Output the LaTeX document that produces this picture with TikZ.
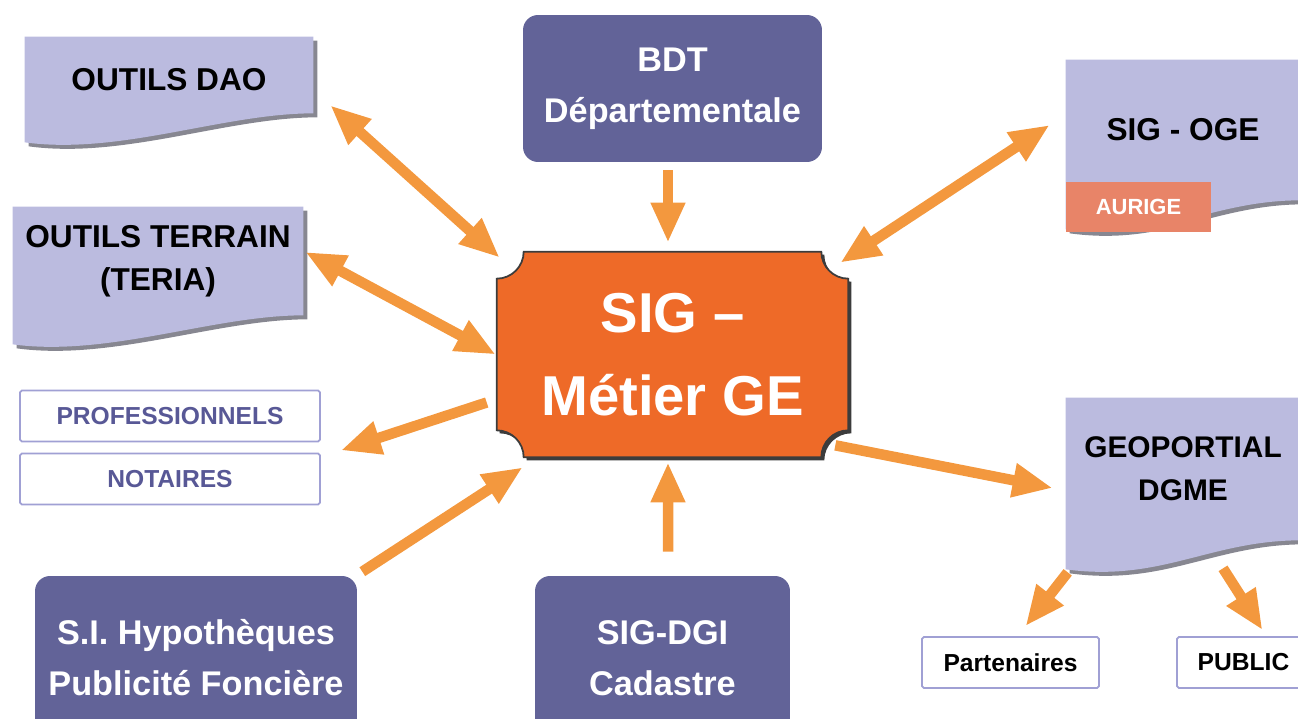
\documentclass[tikz,border=0pt]{standalone}
\usepackage{fontspec}
\setmainfont{Liberation Sans}
\usetikzlibrary{arrows.meta,calc,backgrounds}

\definecolor{paper}{RGB}{187,187,223}
\definecolor{papershade}{RGB}{135,135,145}
\definecolor{plaque}{RGB}{98,99,152}
\definecolor{core}{RGB}{238,106,40}
\definecolor{coreline}{RGB}{60,60,60}
\definecolor{arroworange}{RGB}{243,152,62}
\definecolor{frame}{RGB}{160,160,212}
\definecolor{inkblue}{RGB}{88,88,150}
\definecolor{aurigefill}{RGB}{232,132,104}

% sheet with a wavy lower edge, drawn round a node
\newcommand{\sheet}[1]{%
  \fill[papershade, transform canvas={shift={(4,4)}}] (#1.north west) -- (#1.north east) -- (#1.south east)
    .. controls ($(#1.south east)+(-90,0)$) and ($(#1.south west)+(95,42)$) .. ($(#1.south west)+(0,29)$) -- cycle;
  \fill[paper] (#1.north west) -- (#1.north east) -- (#1.south east)
    .. controls ($(#1.south east)+(-90,0)$) and ($(#1.south west)+(95,42)$) .. ($(#1.south west)+(0,29)$) -- cycle;}

% plate with hollow corners
\newcommand{\plate}[2]{%
  ($(#1.north west)+(#2,0)$) -- ($(#1.north east)+(-#2,0)$) arc[start angle=180, end angle=90, radius=#2]
  -- ($(#1.south east)+(0,-#2)$) arc[start angle=270, end angle=180, radius=#2]
  -- ($(#1.south west)+(#2,0)$) arc[start angle=0, end angle=-90, radius=#2]
  -- ($(#1.north west)+(0,#2)$) arc[start angle=90, end angle=0, radius=#2] -- cycle}

\begin{document}
\begin{tikzpicture}[
  x=0.02cm, y=-0.02cm,
  sheetbox/.style={inner sep=0pt, align=center, font=\bfseries\fontsize{18}{24.5}\selectfont},
  plaquebox/.style={fill=plaque, rounded corners=0.3cm, inner sep=0pt, align=center, text=white, font=\bfseries\fontsize{19.5}{29}\selectfont},
  listbox/.style={draw=frame, line width=1pt, fill=white, rounded corners=1pt, inner sep=0pt, minimum height=1.02cm, font=\bfseries\fontsize{14}{16}\selectfont},
  fat/.style={draw=arroworange, line width=0.21cm, -{Triangle[length=0.8cm,width=0.64cm]}},
  fatboth/.style={fat, {Triangle[length=0.8cm,width=0.64cm]}-{Triangle[length=0.8cm,width=0.64cm]}}
]
\useasboundingbox (0,0) rectangle (1298,719);
\clip (0,0) rectangle (1298,719);

% sheets
\node[sheetbox, minimum width=5.76cm, minimum height=1.52cm, text height=0.64cm] (dao) at (169,75) {OUTILS DAO};
\node[sheetbox, minimum width=5.8cm, minimum height=2.16cm] (terrain) at (158,261) {OUTILS TERRAIN\\(TERIA)};
\node[sheetbox, minimum width=4.68cm, minimum height=2.8cm] (oge) at (1183,130) {SIG - OGE};
\node[sheetbox, minimum width=4.68cm, minimum height=2.84cm, font=\bfseries\fontsize{17}{24.5}\selectfont] (geo) at (1183,469) {GEOPORTIAL\\DGME};

% plaques
\node[plaquebox, minimum width=5.98cm, minimum height=2.94cm] (bdt) at (672.5,88.5) {BDT\\Départementale};
\node[plaquebox, minimum width=6.44cm, minimum height=3.28cm] (hyp) at (196,658) {S.I. Hypothèques\\Publicité Foncière};
\node[plaquebox, minimum width=5.1cm, minimum height=3.28cm] (dgi) at (662.5,658) {SIG-DGI\\Cadastre};

% centre
\node[inner sep=0pt, minimum width=7.02cm, minimum height=4.1cm, align=center, text=white,
  font=\bfseries\fontsize{32}{47}\selectfont] (sig) at (672.5,354.5) {SIG –\\Métier GE};

% small boxes
\node[listbox, minimum width=6cm, text=inkblue] (pro) at (170,416) {PROFESSIONNELS};
\node[listbox, minimum width=6cm, text=inkblue] (not) at (170,479) {NOTAIRES};
\node[listbox, minimum width=3.54cm] (part) at (1010.5,662.5) {Partenaires};
\node[listbox, minimum width=2.66cm] (pub) at (1243.5,662.5) {PUBLIC};

\begin{pgfonlayer}{background}
  \sheet{dao}
  \sheet{terrain}
  \sheet{oge}
  \sheet{geo}
  \fill[coreline, transform canvas={shift={(3,3)}}] \plate{sig}{27};
  \filldraw[fill=core, draw=coreline, line width=1pt] \plate{sig}{27};
\end{pgfonlayer}

\node[fill=aurigefill, inner sep=0pt, minimum width=2.9cm, minimum height=1cm, text=white,
  font=\bfseries\fontsize{12.5}{14}\selectfont] (aurige) at (1138.5,207) {AURIGE};

% connectors
\draw[fatboth] ([shift={(17,-8)}]dao.south east) -- ([shift={(3,6)}]sig.north west);
\draw[fatboth] ([shift={(2,-9)}]terrain.east) -- ([shift={(-1,0)}]sig.west);
\draw[fat] ([shift={(-10,48)}]sig.west) -- ([shift={(20,8)}]pro.south east);
\draw[fat] ([shift={(5,-4)}]hyp.north east) -- ([shift={(26,10)}]sig.south west);
\draw[fat] ([shift={(5.5,-24)}]dgi.north) -- ([shift={(-4.5,5)}]sig.south);
\draw[fat] ([shift={(-4.5,8)}]bdt.south) -- ([shift={(-4.5,-9)}]sig.north);
\draw[fatboth] ([shift={(-16,-5)}]oge.west) -- ([shift={(-8,11)}]sig.north east);
\draw[fat] ([shift={(-13,-12)}]sig.south east) -- ([shift={(-13,19)}]geo.west);
\draw[fat] ([shift={(2,32)}]geo.south west) -- ([shift={(15,-10)}]part.north);
\draw[fat] ([shift={(40,28)}]geo.south) -- ([shift={(19,-6)}]pub.north);
\end{tikzpicture}
\end{document}
